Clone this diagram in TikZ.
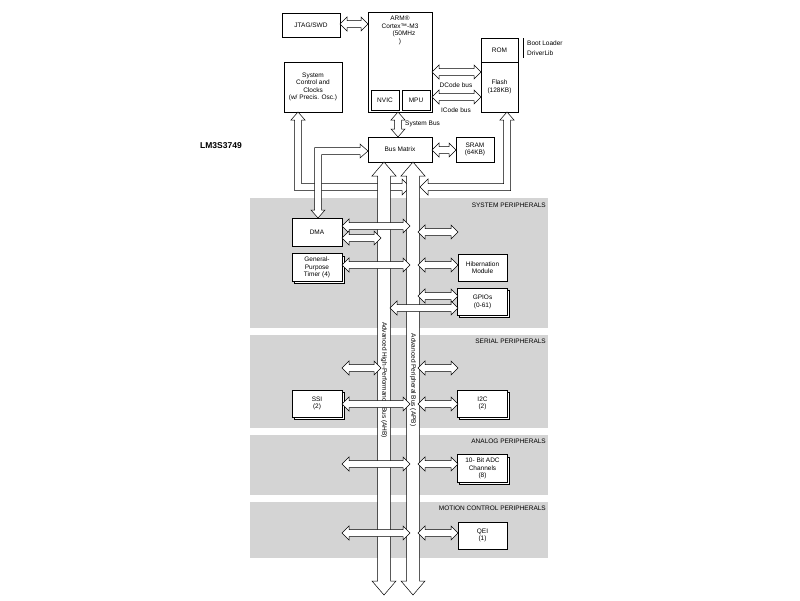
\documentclass[tikz,border=0pt]{standalone}
\usepackage{fontspec}
\setmainfont{Liberation Sans}
\begin{document}
\begin{tikzpicture}[x=1pt,y=-1pt,
  bx/.style={draw,fill=white,line width=0.5pt,align=center,font=\fontsize{6.5}{7.5}\selectfont},
  lbl/.style={font=\fontsize{6.5}{7.5}\selectfont,inner sep=0pt},
  arr/.style={draw,fill=white,line width=0.5pt,line join=miter},
  band/.style={fill=black!17,draw=none}]
\useasboundingbox (0,0) rectangle (800,600);
\newcommand\hA[3]{\path[arr] (#1,#3)--({#1+7},{#3-7})--({#1+7},{#3-3.5})--({#2-7},{#3-3.5})--({#2-7},{#3-7})--(#2,#3)--({#2-7},{#3+7})--({#2-7},{#3+3.5})--({#1+7},{#3+3.5})--({#1+7},{#3+7})--cycle;}
\newcommand\vA[3]{\path[arr] (#1,#2)--({#1+7},{#2+8})--({#1+3.5},{#2+8})--({#1+3.5},{#3-8})--({#1+7},{#3-8})--(#1,#3)--({#1-7},{#3-8})--({#1-3.5},{#3-8})--({#1-3.5},{#2+8})--({#1-7},{#2+8})--cycle;}
\newcommand\bus[1]{\path[arr] (#1,162)--({#1+12},176)--({#1+6.5},176)--({#1+6.5},581)--({#1+12},581)--(#1,595)--({#1-12},581)--({#1-6.5},581)--({#1-6.5},176)--({#1-12},176)--cycle;}
\newcommand\stk[5]{\node[bx,minimum width=50pt,minimum height=27pt] at ({#2+2},{#3+2}) {}; \node[bx,minimum width=50pt,minimum height=27pt] (#1) at (#2,#3) {#4};}
% bands
\fill[band] (250,198) rectangle (548,328);
\fill[band] (250,335) rectangle (548,428);
\fill[band] (250,435) rectangle (548,495);
\fill[band] (250,502) rectangle (548,558);
\node[lbl,anchor=east] at (546,205) {SYSTEM PERIPHERALS};
\node[lbl,anchor=east] at (546,341) {SERIAL PERIPHERALS};
\node[lbl,anchor=east] at (546,441) {ANALOG PERIPHERALS};
\node[lbl,anchor=east] at (546,508) {MOTION CONTROL PERIPHERALS};
\node[anchor=west,inner sep=0pt,font=\bfseries\fontsize{8.5}{10}\selectfont] (chip) at (200,146) {LM3S3749};
% top blocks
\node[bx,minimum width=58pt,minimum height=24pt] (jtag) at (311,25) {JTAG/SWD};
\node[bx,minimum width=64pt,minimum height=100pt] (arm) at (400,62) {};
\node[lbl,align=center,anchor=north] at (400,16) {ARM\textregistered\\Cortex\texttrademark-M3\\\hspace*{8pt}(50MHz\\)};
\node[bx,minimum width=28pt,minimum height=20pt] (nvic) at (385,100) {NVIC};
\node[bx,minimum width=28pt,minimum height=20pt] (mpu) at (416,100) {MPU};
\node[bx,minimum width=37pt,minimum height=24pt] (rom) at (499.5,50) {ROM};
\node[bx,minimum width=37pt,minimum height=50pt] (flash) at (499.5,87) {Flash\\(128KB)};
\draw[line width=0.5pt] (523,38)--(523,58);
\node[lbl,anchor=west] at (527,43) {Boot Loader};
\node[lbl,anchor=west] at (527,53) {DriverLib};
\node[bx,minimum width=58pt,minimum height=50pt] (sysc) at (313,87) {System\\Control and\\Clocks\\(w/ Precis. Osc.)};
\node[bx,minimum width=64pt,minimum height=25pt] (bm) at (400,149.5) {Bus Matrix};
\node[bx,minimum width=38pt,minimum height=25pt] (sram) at (475,149.5) {SRAM\\(64KB)};
\hA{340}{368}{24}
\hA{432}{481}{72}
\node[lbl] at (456,85) {DCode bus};
\hA{432}{481}{97}
\node[lbl] at (456,110) {ICode bus};
\vA{398}{112}{137}
\node[lbl,anchor=west] at (405,124) {System Bus};
\hA{432}{456}{150}
% L-shaped connectors
\path[arr] (298,112)--(305,120)--(301.5,120)--(301.5,183.5)--(402,183.5)--(402,179)--(410,187)--(402,195)--(402,190.5)--(294.5,190.5)--(294.5,120)--(291,120)--cycle;
\path[arr] (507,112)--(514,120)--(510.5,120)--(510.5,190.5)--(428,190.5)--(428,195)--(420,187)--(428,179)--(428,183.5)--(503.5,183.5)--(503.5,120)--(500,120)--cycle;
\path[arr] (368,151)--(360,158)--(360,154.5)--(321.5,154.5)--(321.5,210)--(325,210)--(318,218)--(311,210)--(314.5,210)--(314.5,147.5)--(360,147.5)--(360,144)--cycle;
% buses
\bus{384}
\bus{413}
\node[lbl,rotate=-90] at (384,380) {Advanced High-Performance Bus (AHB)};
\node[lbl,rotate=-90] at (413,380) {Advanced Peripheral Bus (APB)};
% peripherals
\node[bx,minimum width=50pt,minimum height=28pt] (dma) at (317,232) {DMA};
\stk{gpt}{317}{267.5}{General-\\Purpose\\Timer (4)}
\node[bx,minimum width=49pt,minimum height=28pt] (wdt) at (482.5,232) {Watchdog\\Timer\\(1)};
\node[bx,minimum width=49pt,minimum height=27pt] (hib) at (482.5,267.5) {Hibernation\\Module};
\stk{gpio}{482.5}{302}{GPIOs\\(0-61)}
\node[bx,minimum width=50pt,minimum height=26pt] (usb) at (317,368) {USB Host\\(FS PHY)};
\stk{ssi}{317}{403.5}{SSI\\(2)}
\stk{uart}{482.5}{368}{UART\\(3)}
\stk{itc}{482.5}{403.5}{I2C\\(2)}
\stk{acmp}{317}{468.5}{Analog\\Comparator\\(2)}
\stk{adc}{482.5}{468.5}{10- Bit ADC\\Channels\\(8)}
\stk{pwm}{317}{535.5}{PWM\\(8)}
\node[bx,minimum width=49pt,minimum height=27pt] (qei) at (482.5,535.5) {QEI\\(1)};
% arrows
\hA{342}{410}{226}
\hA{342}{381}{238}
\hA{342}{410}{265}
\hA{418}{458}{232}
\hA{418}{458}{265}
\hA{418}{458}{296}
\hA{390}{458}{308}
\hA{342}{381}{368}
\hA{342}{410}{404}
\hA{418}{458}{368}
\hA{418}{458}{404}
\hA{342}{410}{464}
\hA{418}{458}{464}
\hA{342}{410}{533}
\hA{418}{458}{533}
\end{tikzpicture}
\end{document}
